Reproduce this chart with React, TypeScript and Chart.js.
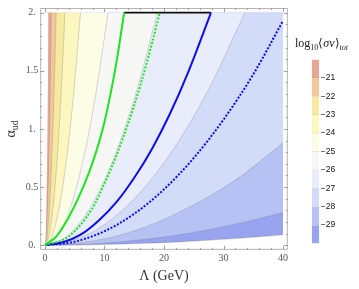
import React, { useEffect, useRef } from 'react';
import { Chart, registerables } from 'chart.js';
Chart.register(...registerables);

// ---- data ----
// contour levels of log10<σv>_tot (boundary values)
const levelValues = [-30, -29, -28, -27, -26, -25, -24, -23, -22, -21, -20];
// band colours (band above each boundary)
const bandColors = ['#98a4ef', '#b6c2f3', '#d2dbf7', '#e9edfb', '#f7f8f6', '#fdfce4', '#fcf6bf', '#f7e9a0', '#f0c99a', '#e6a595', '#ffffff'];

// boundaries leaving through the top edge (α = 2): α samples and Λ samples
const topAlpha = [0, 0.08, 0.32, 0.72, 1.28, 2];
const bndM20 = [0, 0.12, 0.24, 0.36, 0.48, 0.6];
const bndM21 = [0, 0.21, 0.42, 0.64, 0.85, 1.06];
const bndM22 = [0, 0.38, 0.76, 1.13, 1.51, 1.89];
const bndM23 = [0, 0.67, 1.34, 2.02, 2.69, 3.36];
const bndM24 = [0, 1.19, 2.39, 3.58, 4.78, 5.97];
const bndM25 = [0, 2.12, 4.24, 6.36, 8.48, 10.6];
const bndM26 = [0, 3.78, 7.56, 11.34, 15.12, 18.9];
const bndM27 = [0, 6.72, 13.44, 20.16, 26.88, 33.6];
// boundaries leaving through the right edge (Λ = 40)
const sideLambda = [0, 8, 16, 24, 32, 40];
const bndM28 = [0, 0.035, 0.14, 0.32, 0.56, 0.88];
const bndM29 = [0, 0.011, 0.045, 0.1, 0.18, 0.28];
const bndM30 = [0, 0.0036, 0.014, 0.032, 0.057, 0.089];

// curves
const greenSolidL = [0, 2, 4, 6, 8, 10, 12, 13.3];
const greenSolidA = [0, 0.08, 0.24, 0.45, 0.71, 1.06, 1.57, 2.0];
const greenDotL = [0, 4, 8, 10, 12, 14, 16, 18, 19.3];
const greenDotA = [0, 0.075, 0.32, 0.53, 0.77, 1.05, 1.37, 1.74, 2.0];
const blueSolidL = [0, 3, 6, 9, 12, 15, 18, 21, 24, 27.9];
const blueSolidA = [0, 0.025, 0.09, 0.21, 0.37, 0.58, 0.83, 1.13, 1.48, 2.0];
const blueDotL = [0, 5, 10, 15, 20, 25, 30, 35, 40];
const blueDotA = [0, 0.03, 0.12, 0.27, 0.48, 0.75, 1.08, 1.47, 1.93];
const blackTopL = [13.3, 27.9];
const blackTopA = [2, 2];

// ticks
const xTickValues = [0, 10, 20, 30, 40];
const yTickValues = [0, 0.5, 1, 1.5, 2];
const cbTickValues = [-21, -22, -23, -24, -25, -26, -27, -28, -29];

const boundaries = [
  { xs: sideLambda, ys: bndM30 },
  { xs: sideLambda, ys: bndM29 },
  { xs: sideLambda, ys: bndM28 },
  { xs: bndM27, ys: topAlpha },
  { xs: bndM26, ys: topAlpha },
  { xs: bndM25, ys: topAlpha },
  { xs: bndM24, ys: topAlpha },
  { xs: bndM23, ys: topAlpha },
  { xs: bndM22, ys: topAlpha },
  { xs: bndM21, ys: topAlpha },
  { xs: bndM20, ys: topAlpha },
];

const pts = (xs: number[], ys: number[]) => xs.map((x, i) => ({ x, y: ys[i] }));

const SERIF = '"Liberation Serif", "Times New Roman", serif';
const SANS = '"Liberation Sans", Arial, sans-serif';

const frameTicks = {
  id: 'frameTicks',
  afterDatasetsDraw(chart: any) {
    const { ctx, chartArea, scales } = chart;
    const { left, right, top, bottom } = chartArea;
    const x = scales.x, y = scales.y;
    ctx.save();
    ctx.strokeStyle = '#b4b4b4';
    ctx.lineWidth = 1;
    ctx.strokeRect(left + 0.5, top + 0.5, right - left - 1, bottom - top - 1);
    ctx.strokeStyle = '#a0a0a0';
    ctx.beginPath();
    for (let v = 0; v <= 40.001; v += 2) {
      const major = Math.abs(v % 10) < 1e-6;
      const len = major ? 4 : 2;
      const px = Math.round(x.getPixelForValue(v)) + 0.5;
      ctx.moveTo(px, bottom); ctx.lineTo(px, bottom - len);
      ctx.moveTo(px, top); ctx.lineTo(px, top + len);
    }
    for (let i = 0; i <= 20; i++) {
      const v = i / 10;
      const major = i % 5 === 0;
      const len = major ? 4 : 2;
      const py = Math.round(y.getPixelForValue(v)) + 0.5;
      ctx.moveTo(left, py); ctx.lineTo(left + len, py);
      ctx.moveTo(right, py); ctx.lineTo(right - len, py);
    }
    ctx.stroke();
    ctx.restore();
  },
  afterDraw(chart: any) {
    const { ctx, chartArea } = chart;
    const cy = (chartArea.top + chartArea.bottom) / 2;
    ctx.save();
    ctx.translate(14.5, cy);
    ctx.rotate(-Math.PI / 2);
    ctx.fillStyle = '#333';
    ctx.textAlign = 'left';
    ctx.textBaseline = 'alphabetic';
    ctx.font = `14px ${SERIF}`;
    const aW = ctx.measureText('α').width;
    ctx.font = `10px ${SERIF}`;
    const sW = ctx.measureText('ud').width;
    const start = -(aW + sW) / 2;
    ctx.font = `14px ${SERIF}`;
    ctx.fillText('α', start, 0);
    ctx.font = `10px ${SERIF}`;
    ctx.fillText('ud', start + aW, 3);
    ctx.restore();
  },
};

export default function App() {
  const mainRef = useRef<HTMLCanvasElement>(null);
  const barRef = useRef<HTMLCanvasElement>(null);

  useEffect(() => {
    const fillSets = boundaries.map((b, i) => ({
      type: 'line' as const,
      label: 'level ' + levelValues[i],
      data: pts(b.xs, b.ys),
      fill: { value: 2 },
      backgroundColor: bandColors[i],
      borderColor: i === boundaries.length - 1 ? 'rgba(0,0,0,0)' : 'rgba(110,110,130,0.35)',
      borderWidth: 0.8,
      pointRadius: 0,
      cubicInterpolationMode: 'monotone' as const,
      order: 100 - i,
    }));
    // region below the lowest contour stays white (outside plotted range)
    const belowSet = {
      type: 'line' as const,
      label: 'below',
      data: pts(sideLambda, bndM30),
      fill: { value: 0 },
      backgroundColor: '#ffffff',
      borderColor: 'rgba(110,110,130,0.35)',
      borderWidth: 0.8,
      pointRadius: 0,
      cubicInterpolationMode: 'monotone' as const,
      order: 50,
    };
    const lineBase = { type: 'line' as const, fill: false, pointRadius: 0, cubicInterpolationMode: 'monotone' as const, order: 1 };
    const lineSets = [
      { ...lineBase, label: 'green', data: pts(greenSolidL, greenSolidA), borderColor: '#1ee41e', borderWidth: 2 },
      { ...lineBase, label: 'green dotted', data: pts(greenDotL, greenDotA), borderColor: '#1ee41e', borderWidth: 2, borderDash: [2, 1.6] },
      { ...lineBase, label: 'blue', data: pts(blueSolidL, blueSolidA), borderColor: '#0c0cee', borderWidth: 2 },
      { ...lineBase, label: 'blue dotted', data: pts(blueDotL, blueDotA), borderColor: '#0c0cee', borderWidth: 2, borderDash: [2, 1.6] },
      { ...lineBase, label: 'top', data: pts(blackTopL, blackTopA), borderColor: '#111', borderWidth: 1.6 },
    ];

    const main = new Chart(mainRef.current!, {
      type: 'line',
      data: { datasets: [...fillSets, belowSet, ...lineSets] as any },
      plugins: [frameTicks],
      options: {
        animation: false,
        responsive: false,
        devicePixelRatio: 1,
        layout: { padding: { left: 0, right: 71.2, top: 2.2, bottom: 0 } },
        plugins: { legend: { display: false }, tooltip: { enabled: false } },
        scales: {
          x: {
            type: 'linear',
            min: -0.8,
            max: 40.8,
            afterBuildTicks: (s: any) => { s.ticks = xTickValues.map((v) => ({ value: v })); },
            afterFit: (s: any) => { s.height = 39.2; },
            grid: { display: false, drawTicks: false },
            border: { display: false },
            ticks: { font: { family: SERIF, size: 10 }, color: '#555', padding: 3, maxRotation: 0, callback: (v: any) => String(v) },
            title: { display: true, text: 'Λ (GeV)', font: { family: SERIF, size: 14 }, color: '#333', padding: { top: 0, bottom: 4 } },
          },
          y: {
            type: 'linear',
            min: -0.04,
            max: 2.04,
            afterBuildTicks: (s: any) => { s.ticks = yTickValues.map((v) => ({ value: v })); },
            afterFit: (s: any) => { s.width = 40.2; },
            grid: { display: false, drawTicks: false },
            border: { display: false },
            ticks: {
              font: { family: SERIF, size: 10 }, color: '#555', padding: 2, crossAlign: 'center',
              callback: (v: any) => (Number.isInteger(v) ? v + '.' : String(v)),
            },
          },
        },
      } as any,
    });

    const bar = new Chart(barRef.current!, {
      type: 'bar',
      data: {
        labels: [''],
        datasets: levelValues.slice(0, -1).map((lv, i) => ({
          label: String(lv),
          data: [[lv, levelValues[i + 1]]],
          backgroundColor: bandColors[i],
          borderColor: 'rgba(0,0,0,0.12)',
          borderWidth: { top: 0.7, bottom: 0, left: 0, right: 0 },
          borderSkipped: false,
          barPercentage: 1,
          categoryPercentage: 1,
          grouped: false,
        })) as any,
      },
      options: {
        animation: false,
        responsive: false,
        devicePixelRatio: 1,
        layout: { padding: { left: 11.7, right: 0, top: 9.5, bottom: 6.5 } },
        plugins: { legend: { display: false }, tooltip: { enabled: false } },
        scales: {
          x: { display: false },
          y: {
            type: 'linear',
            position: 'right',
            min: -30,
            max: -20,
            afterBuildTicks: (s: any) => { s.ticks = cbTickValues.map((v) => ({ value: v })); },
            afterFit: (s: any) => { s.width = 39.7; },
            grid: { display: false, drawTicks: false },
            border: { display: false },
            ticks: { font: { family: SANS, size: 8.5 }, color: '#111', padding: 1.5, callback: (v: any) => '\u2212' + Math.abs(v) },
          },
        },
      } as any,
    });

    return () => { main.destroy(); bar.destroy(); };
  }, []);

  return (
    <div style={{ position: 'fixed', left: 0, top: 0, width: 359, height: 289, background: '#fff' }}>
      <canvas ref={mainRef} width={359} height={289} style={{ position: 'absolute', left: 0, top: 0, width: 359, height: 289 }} />
      <canvas ref={barRef} width={59} height={200} style={{ position: 'absolute', left: 300, top: 50, width: 59, height: 200 }} />
      <div style={{ position: 'absolute', left: 295, top: 36, fontFamily: SERIF, fontSize: 12, lineHeight: '14px', whiteSpace: 'nowrap', color: '#222' }}>
        log<span style={{ fontSize: 8, position: 'relative', top: 3 }}>10</span>⟨<i>σv</i>⟩<span style={{ fontSize: 8, position: 'relative', top: 3, fontStyle: 'italic' }}>tot</span>
      </div>
    </div>
  );
}
